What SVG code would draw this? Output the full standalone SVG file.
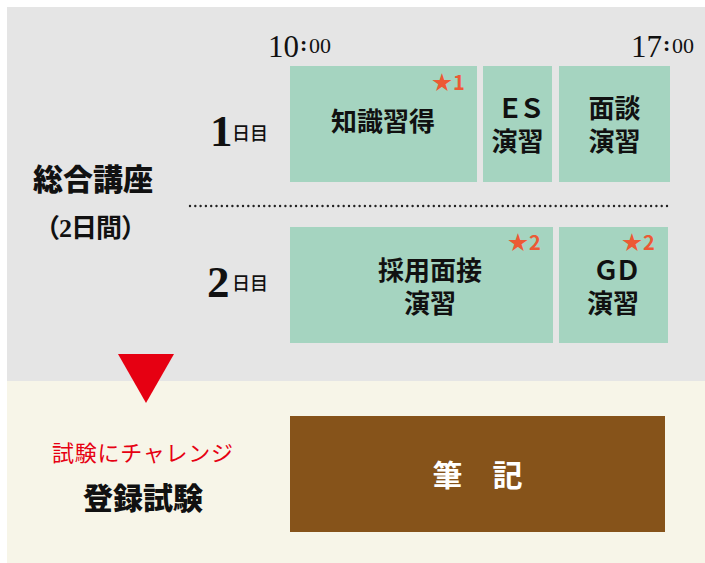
<svg xmlns="http://www.w3.org/2000/svg" width="705" height="563" viewBox="0 0 705 563">
  <style>
    .sans { font-family: "Noto Sans CJK JP", "Noto Sans", sans-serif; }
    .serif { font-family: "Liberation Serif", "Noto Sans CJK JP", serif; fill: #111; }
    .box { fill: #a5d4c0; }
    .lbl { font-family: "Noto Sans CJK JP", "Noto Sans", sans-serif; font-size: 26px; font-weight: 700; fill: #111; text-anchor: middle; }
    .star { font-family: "Noto Sans CJK JP", "Noto Sans", sans-serif; font-size: 20px; font-weight: 700; fill: #ec5a35; }
    .day { font-family: "Noto Sans CJK JP", sans-serif; font-size: 18px; font-weight: 500; fill: #111; }
    .num { font-family: "Liberation Serif", serif; font-size: 45px; font-weight: 700; fill: #111; }
  </style>

  <!-- backgrounds -->
  <rect x="7" y="7" width="698" height="374" fill="#e5e5e5"/>
  <rect x="7" y="381" width="698" height="182" fill="#f7f5e8"/>

  <!-- time labels -->
  <g id="time-start">
    <text class="serif" x="268" y="57" font-size="31">10</text>
    <text class="serif" x="300" y="51" font-size="22" font-weight="700">:</text>
    <text class="serif" x="309" y="53" font-size="22">00</text>
  </g>
  <g id="time-end">
    <text class="serif" x="631" y="57" font-size="31">17</text>
    <text class="serif" x="663" y="51" font-size="22" font-weight="700">:</text>
    <text class="serif" x="672" y="53" font-size="22">00</text>
  </g>

  <!-- left titles -->
  <g id="sogo-koza">
    <text class="sans" x="93" y="190" font-size="30" font-weight="900" fill="#111" text-anchor="middle">総合講座</text>
    <text class="serif" x="90" y="237" font-size="26" font-weight="700" text-anchor="middle" letter-spacing="-1">（2日間）</text>
  </g>

  <g id="day1-label">
    <text class="num" x="210" y="146">1</text>
    <text class="day" x="232" y="140">日目</text>
  </g>
  <g id="day2-label">
    <text class="num" x="207" y="297">2</text>
    <text class="day" x="232" y="290">日目</text>
  </g>

  <!-- day 1 nodes -->
  <g id="chishiki">
    <rect class="box" x="290" y="66" width="187" height="116"/>
    <text class="lbl" x="383" y="131">知識習得</text>
    <text class="star" x="432" y="90">★<tspan dx="1">1</tspan></text>
  </g>
  <g id="es">
    <rect class="box" x="483" y="66" width="69" height="116"/>
    <text class="lbl" x="519" y="118" letter-spacing="-4">ＥＳ</text>
    <text class="lbl" x="517.5" y="151">演習</text>
  </g>
  <g id="mendan">
    <rect class="box" x="559" y="66" width="111" height="116"/>
    <text class="lbl" x="614.5" y="118">面談</text>
    <text class="lbl" x="614.5" y="151">演習</text>
  </g>

  <!-- separator -->
  <line x1="190" y1="206" x2="668" y2="206" stroke="#222" stroke-width="2.4" stroke-linecap="round" stroke-dasharray="0 5.3"/>

  <!-- day 2 nodes -->
  <g id="saiyo-mensetsu">
    <rect class="box" x="290" y="227" width="263" height="116"/>
    <text class="lbl" x="430" y="280">採用面接</text>
    <text class="lbl" x="430" y="313">演習</text>
    <text class="star" x="508" y="250">★<tspan dx="1">2</tspan></text>
  </g>
  <g id="gd">
    <rect class="box" x="559" y="227" width="109" height="116"/>
    <text class="lbl" x="615" y="280" letter-spacing="-4">ＧＤ</text>
    <text class="lbl" x="613" y="313">演習</text>
    <text class="star" x="622" y="250">★<tspan dx="1">2</tspan></text>
  </g>

  <!-- connectors -->
  <g id="connectors">
    <polygon points="118,354 174,354 146,403" fill="#e60012"/>
  </g>

  <!-- exam -->
  <g id="toroku-shiken">
    <text class="serif" x="142.5" y="461" font-size="22" style="fill:#e60012" text-anchor="middle" textLength="181">試験にチャレンジ</text>
    <text class="sans" x="143" y="509" font-size="30" font-weight="900" fill="#111" text-anchor="middle">登録試験</text>
  </g>
  <g id="hikki">
    <rect x="290" y="416" width="375" height="116" fill="#86531a"/>
    <text class="sans" x="477.5" y="486" font-size="30" font-weight="700" fill="#ffffff" text-anchor="middle">筆　記</text>
  </g>
</svg>
